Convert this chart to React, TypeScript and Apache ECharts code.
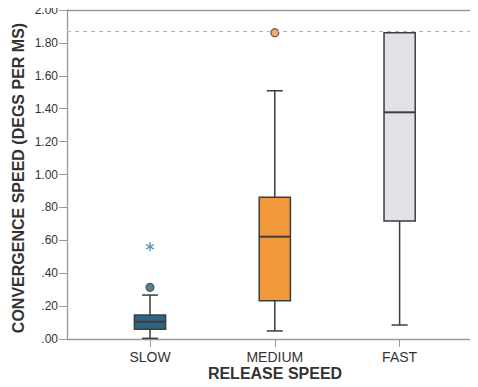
import React, { useEffect, useRef } from "react";
import * as echarts from "echarts";

const categories = ["SLOW", "MEDIUM", "FAST"];
const whiskerLow = [0.004, 0.049, 0.085];
const q1 = [0.059, 0.233, 0.717];
const median = [0.105, 0.622, 1.378];
const q3 = [0.146, 0.861, 1.862];
const whiskerHigh = [0.267, 1.509, 1.862];
const boxColors = ["#2c6483", "#f0983a", "#e1e2e5"];
const circleOutliers: [number, number][] = [
  [0, 0.314],
  [1, 1.862],
];
const starOutliers: [number, number][] = [[0, 0.561]];
const referenceValue = 1.866;

const FONT = "'Liberation Sans', Arial, sans-serif";
const AXIS = "#9a9a9a";
const EDGE = "#3d3d3d";

function fmtY(v: number) {
  const s = v.toFixed(2);
  return v < 1 ? s.replace(/^0/, "") : s;
}

export default function App() {
  const ref = useRef<HTMLDivElement>(null);
  useEffect(() => {
    if (!ref.current) return;
    const chart = echarts.init(ref.current, undefined, { renderer: "svg" });
    const xMin = -0.665;
    const xMax = 2.62;
    const boxData = categories.map((_, i) => [
      i,
      whiskerLow[i],
      q1[i],
      median[i],
      q3[i],
      whiskerHigh[i],
    ]);
    chart.setOption({
      animation: false,
      grid: { left: 67, right: 1, top: 10, bottom: 48 },
      xAxis: [
        {
          type: "value",
          min: xMin,
          max: xMax,
          axisLine: { show: true, onZero: false, lineStyle: { color: AXIS, width: 1.3 } },
          axisTick: {
            show: true,
            customValues: [0, 1, 2],
            length: 8,
            lineStyle: { color: AXIS },
          },
          axisLabel: {
            customValues: [0, 1, 2],
            formatter: (v: number) => categories[Math.round(v)] ?? "",
            color: "#333",
            fontSize: 14,
            lineHeight: 14,
            fontFamily: FONT,
            margin: 11,
          },
          splitLine: { show: false },
        },
        {
          type: "value",
          position: "top",
          min: xMin,
          max: xMax,
          axisLine: { show: true, onZero: false, lineStyle: { color: AXIS, width: 1.3 } },
          axisTick: { show: false },
          axisLabel: { show: false },
          splitLine: { show: false },
        },
      ],
      yAxis: [
        {
          type: "value",
          min: 0,
          max: 2,
          interval: 0.2,
          axisLine: { show: true, onZero: false, lineStyle: { color: AXIS, width: 1.3 } },
          axisTick: { show: true, length: 8, lineStyle: { color: AXIS } },
          axisLabel: {
            formatter: (v: number) => fmtY(v),
            color: "#333",
            fontSize: 12,
            fontFamily: FONT,
            margin: 9,
          },
          splitLine: { show: false },
        },
      ],
      graphic: [
        {
          type: "text",
          x: 18,
          y: 178,
          rotation: Math.PI / 2,
          style: {
            text: "CONVERGENCE SPEED (DEGS PER MS)",
            fontSize: 16,
            lineHeight: 16,
            fontWeight: "bold",
            fontFamily: FONT,
            fill: "#333",
            align: "center",
            verticalAlign: "middle",
          },
        },
        {
          type: "text",
          x: 275,
          y: 373,
          style: {
            text: "RELEASE SPEED",
            fontSize: 16,
            lineHeight: 16,
            fontWeight: "bold",
            fontFamily: FONT,
            fill: "#333",
            align: "center",
            verticalAlign: "middle",
          },
        },
      ],
      series: [
        {
          type: "custom",
          xAxisIndex: 0,
          yAxisIndex: 0,
          data: boxData,
          encode: { x: 0, y: [1, 2, 3, 4, 5] },
          renderItem: (params: any, api: any) => {
            const i = api.value(0);
            const lo = api.value(1);
            const a = api.value(2);
            const m = api.value(3);
            const b = api.value(4);
            const hi = api.value(5);
            const bw = api.size([1, 0])[0];
            const half = bw * 0.125;
            const cap = bw * 0.064;
            const pLo = api.coord([i, lo]);
            const pA = api.coord([i, a]);
            const pM = api.coord([i, m]);
            const pB = api.coord([i, b]);
            const pHi = api.coord([i, hi]);
            const cx = pA[0];
            const ls = { stroke: EDGE, lineWidth: 1.5 };
            const children: any[] = [
              { type: "line", shape: { x1: cx, y1: pLo[1], x2: cx, y2: pA[1] }, style: ls },
              { type: "line", shape: { x1: cx - cap, y1: pLo[1], x2: cx + cap, y2: pLo[1] }, style: ls },
            ];
            if (hi > b) {
              children.push(
                { type: "line", shape: { x1: cx, y1: pB[1], x2: cx, y2: pHi[1] }, style: ls },
                { type: "line", shape: { x1: cx - cap, y1: pHi[1], x2: cx + cap, y2: pHi[1] }, style: ls }
              );
            }
            children.push(
              {
                type: "rect",
                shape: { x: cx - half, y: pB[1], width: half * 2, height: pA[1] - pB[1] },
                style: { fill: boxColors[i], stroke: EDGE, lineWidth: 1.5 },
              },
              { type: "line", shape: { x1: cx - half, y1: pM[1], x2: cx + half, y2: pM[1] }, style: { stroke: EDGE, lineWidth: 2 } }
            );
            return { type: "group", children };
          },
          markLine: {
            silent: true,
            symbol: "none",
            label: { show: false },
            lineStyle: { color: "#b5b5b5", type: [4, 4], width: 1.2 },
            data: [{ yAxis: referenceValue }],
          },
          z: 2,
        },
        {
          type: "scatter",
          xAxisIndex: 0,
          yAxisIndex: 0,
          data: circleOutliers.map((d) => ({
            value: d,
            itemStyle: { color: boxColors[d[0]], borderColor: EDGE, borderWidth: 1.2 },
          })),
          symbol: "circle",
          symbolSize: 8,
          z: 3,
        },
        {
          type: "custom",
          xAxisIndex: 0,
          yAxisIndex: 0,
          data: starOutliers,
          renderItem: (params: any, api: any) => {
            const p = api.coord([api.value(0), api.value(1)]);
            const r = 4.5;
            const st = { stroke: "#4a8ba6", lineWidth: 1.3 };
            const arms: any[] = [];
            for (let k = 0; k < 3; k++) {
              const ang = Math.PI / 2 + (k * Math.PI) / 3;
              arms.push({
                type: "line",
                shape: {
                  x1: p[0] - r * Math.cos(ang),
                  y1: p[1] - r * Math.sin(ang),
                  x2: p[0] + r * Math.cos(ang),
                  y2: p[1] + r * Math.sin(ang),
                },
                style: st,
              });
            }
            return { type: "group", children: arms };
          },
          z: 3,
        },
      ],
    });
    return () => chart.dispose();
  }, []);
  return <div ref={ref} style={{ width: 478, height: 387, margin: -8 }} />;
}
